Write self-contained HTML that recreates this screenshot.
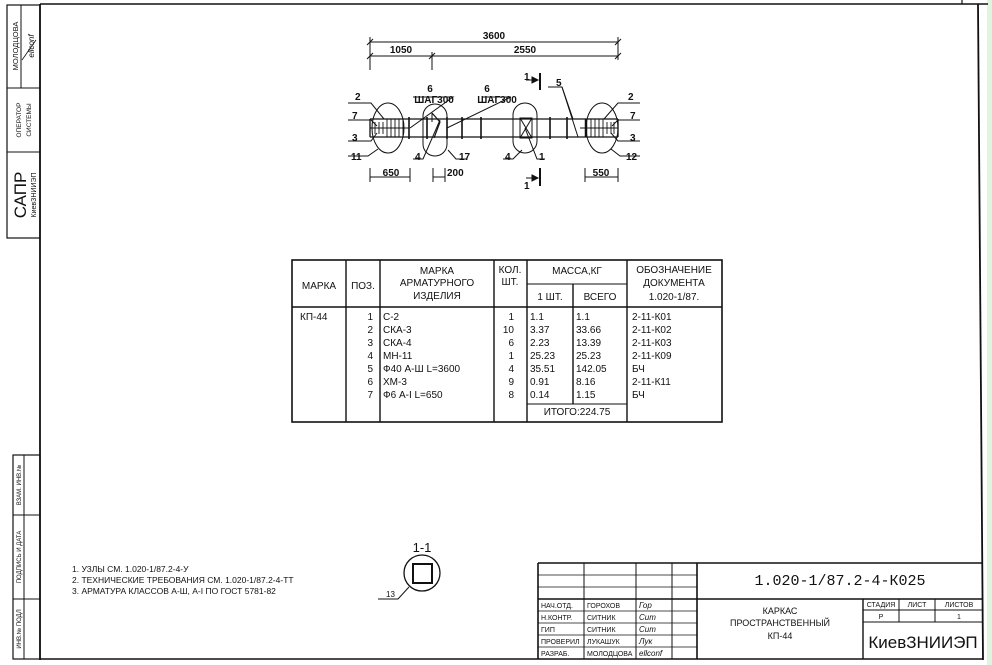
<!DOCTYPE html>
<html><head><meta charset="utf-8"><style>
html,body{margin:0;padding:0;background:#fff}
svg{display:block}
text{font-family:"Liberation Sans",sans-serif;fill:#111}
.m{font-family:"Liberation Mono",monospace}
</style></head><body>
<svg width="992" height="665" viewBox="0 0 992 665" xmlns="http://www.w3.org/2000/svg">
<rect x="987" y="0" width="5" height="665" fill="#dff5df"/>
<g stroke="#111" fill="none">
<!-- frame -->
<line x1="40" y1="4" x2="988" y2="4" stroke-width="1.6"/>
<line x1="962" y1="0" x2="962" y2="4" stroke-width="1.2"/>
<line x1="40" y1="4" x2="40" y2="660" stroke-width="1.8"/>
<line x1="978" y1="4" x2="983" y2="660" stroke-width="1.8"/>
<line x1="40" y1="659" x2="983" y2="659" stroke-width="1.6"/>
<!-- top-left stamp -->
<rect x="7" y="5" width="33" height="233" stroke-width="1.2"/>
<line x1="7" y1="88" x2="40" y2="88"/><line x1="7" y1="152" x2="40" y2="152"/>
<line x1="21" y1="5" x2="21" y2="88"/>
<line x1="22" y1="60" x2="36" y2="40" stroke-width="0.8"/>
<!-- bottom-left strip -->
<rect x="13" y="455" width="27" height="204" stroke-width="1.2"/>
<line x1="24" y1="455" x2="24" y2="659"/>
<line x1="13" y1="515" x2="40" y2="515"/><line x1="13" y1="599" x2="40" y2="599"/>
</g>
<g font-size="7.5">
<text transform="translate(18,46) rotate(-90)" text-anchor="middle">МОЛОДЦОВА</text>
<text transform="translate(34,46) rotate(-90)" text-anchor="middle" font-style="italic" font-size="8">ellconf</text>
<text transform="translate(21,120) rotate(-90)" text-anchor="middle" font-size="6.5">ОПЕРАТОР</text>
<text transform="translate(31,120) rotate(-90)" text-anchor="middle" font-size="6.5">СИСТЕМЫ</text>
<text transform="translate(26,195) rotate(-90)" text-anchor="middle" font-size="17">САПР</text>
<text transform="translate(36,195) rotate(-90)" text-anchor="middle" font-size="7">КиевЗНИИЭП</text>
<text transform="translate(21,485) rotate(-90)" text-anchor="middle" font-size="6">ВЗАМ. ИНВ.№</text>
<text transform="translate(21,557) rotate(-90)" text-anchor="middle" font-size="6">ПОДПИСЬ И ДАТА</text>
<text transform="translate(21,629) rotate(-90)" text-anchor="middle" font-size="6">ИНВ.№ ПОДЛ</text>
</g>

<!-- main drawing -->
<g stroke="#111" fill="none" stroke-width="1">
<!-- dims -->
<line x1="370" y1="42" x2="618" y2="42"/>
<line x1="370" y1="56" x2="618" y2="56"/>
<line x1="370" y1="37" x2="370" y2="70"/><line x1="618" y1="37" x2="618" y2="60"/>
<line x1="432" y1="52" x2="432" y2="70"/>
<line x1="367" y1="45" x2="373" y2="39"/><line x1="615" y1="45" x2="621" y2="39"/>
<line x1="367" y1="59" x2="373" y2="53"/><line x1="429" y1="59" x2="435" y2="53"/><line x1="615" y1="59" x2="621" y2="53"/>
<!-- bars -->
<line x1="370" y1="119" x2="618" y2="119" stroke-width="1.3"/>
<line x1="370" y1="137" x2="618" y2="137" stroke-width="1.3"/>
<line x1="370" y1="119" x2="370" y2="137" stroke-width="1.3"/>
<line x1="618" y1="119" x2="618" y2="137" stroke-width="1.3"/>
<line x1="370" y1="128" x2="409" y2="128"/>
<line x1="580" y1="128" x2="618" y2="128"/>
<!-- stirrups -->
<g stroke-width="1.6">
<line x1="409" y1="117" x2="409" y2="139"/>
<line x1="427" y1="117" x2="427" y2="139"/><line x1="447" y1="117" x2="447" y2="139"/>
<line x1="462" y1="117" x2="462" y2="139"/><line x1="481" y1="117" x2="481" y2="139"/>
<line x1="550" y1="117" x2="550" y2="139"/><line x1="567" y1="117" x2="567" y2="139"/>
</g>
<!-- left mesh -->
<g stroke-width="0.9">
<line x1="375" y1="122" x2="375" y2="134"/><line x1="379" y1="122" x2="379" y2="134"/><line x1="383" y1="122" x2="383" y2="134"/>
<line x1="387" y1="119" x2="387" y2="137"/><line x1="391" y1="119" x2="391" y2="137"/><line x1="395" y1="119" x2="395" y2="137"/><line x1="399" y1="119" x2="399" y2="137"/><line x1="403" y1="119" x2="403" y2="137"/>
<line x1="586" y1="119" x2="586" y2="137" stroke-width="2.5"/>
<line x1="591" y1="119" x2="591" y2="137"/><line x1="595" y1="119" x2="595" y2="137"/><line x1="599" y1="119" x2="599" y2="137"/><line x1="603" y1="119" x2="603" y2="137"/>
<line x1="607" y1="122" x2="607" y2="134"/><line x1="611" y1="122" x2="611" y2="134"/><line x1="614" y1="122" x2="614" y2="134"/>
</g>
<!-- ellipses -->
<ellipse cx="388" cy="128" rx="16" ry="25"/>
<rect x="423" y="104" width="24" height="52" rx="12"/>
<rect x="513" y="103" width="24" height="50" rx="12"/>
<ellipse cx="602" cy="128" rx="16" ry="25"/>
<!-- 4 in second ellipse -->
<path d="M432 113 L440 122 L434 138" stroke-width="1.2"/>
<line x1="432" y1="113" x2="432" y2="122"/>
<!-- X box -->
<rect x="520" y="118" width="12" height="20"/>
<line x1="520" y1="118" x2="532" y2="138"/><line x1="532" y1="118" x2="520" y2="138"/>
<!-- leaders -->
<polyline points="348,103 371,103 384,119"/>
<polyline points="348,120 371,120 377,126"/>
<polyline points="348,141 371,141 377,133"/>
<polyline points="348,156 368,156 378,149"/>
<polyline points="640,103 618,103 604,119"/>
<polyline points="640,120 618,120 612,126"/>
<polyline points="640,141 618,141 611,133"/>
<polyline points="640,156 620,156 611,149"/>
<polyline points="413,97 453,97 410,128"/>
<polyline points="482,97 511,97 447,128"/>
<polyline points="413,159 423,159 440,120"/>
<polyline points="466,159 456,159 448,150"/>
<polyline points="503,159 513,159 522,150"/>
<polyline points="545,159 537,159 525,128"/>
<polyline points="548,87 562,87 573,119"/>
<line x1="562" y1="87" x2="578" y2="137"/>
<!-- section marks -->
<line x1="540" y1="73" x2="540" y2="90" stroke-width="2"/>
<line x1="540" y1="168" x2="540" y2="186" stroke-width="2"/>
<line x1="526" y1="80" x2="538" y2="80"/><path d="M532 77 L538 80 L532 83 Z" fill="#111"/>
<line x1="526" y1="178" x2="538" y2="178"/><path d="M532 175 L538 178 L532 181 Z" fill="#111"/>
<!-- bottom dims -->
<line x1="370" y1="177" x2="410" y2="177"/>
<line x1="370" y1="168" x2="370" y2="182"/><line x1="410" y1="168" x2="410" y2="182"/>
<line x1="433" y1="177" x2="445" y2="177"/>
<line x1="433" y1="168" x2="433" y2="182"/><line x1="445" y1="168" x2="445" y2="182"/>
<line x1="585" y1="177" x2="618" y2="177"/>
<line x1="585" y1="168" x2="585" y2="182"/><line x1="618" y1="168" x2="618" y2="182"/>
</g>
<g font-size="10" class="m" font-weight="bold">
<text x="494" y="39" text-anchor="middle">3600</text>
<text x="401" y="53" text-anchor="middle">1050</text>
<text x="525" y="53" text-anchor="middle">2550</text>
<text x="430" y="92" text-anchor="middle">6</text>
<text x="487" y="92" text-anchor="middle">6</text>
<text x="434" y="103" text-anchor="middle">ШАГ300</text>
<text x="497" y="103" text-anchor="middle">ШАГ300</text>
<text x="524" y="80">1</text><text x="524" y="189">1</text>
<text x="556" y="86">5</text>
<text x="355" y="100">2</text><text x="352" y="119">7</text><text x="352" y="141">3</text><text x="351" y="160">11</text>
<text x="628" y="100">2</text><text x="630" y="119">7</text><text x="630" y="141">3</text><text x="626" y="160">12</text>
<text x="415" y="160">4</text><text x="459" y="160">17</text><text x="505" y="160">4</text><text x="539" y="160">1</text>
<text x="391" y="176" text-anchor="middle">650</text>
<text x="447" y="176">200</text>
<text x="601" y="176" text-anchor="middle">550</text>
</g>

<!-- table -->
<g stroke="#111" fill="none" stroke-width="1">
<rect x="292" y="260" width="430" height="162" stroke-width="1.6"/>
<line x1="292" y1="307" x2="722" y2="307" stroke-width="1.4"/>
<line x1="346" y1="260" x2="346" y2="422" stroke-width="1.4"/>
<line x1="380" y1="260" x2="380" y2="422" stroke-width="1.4"/>
<line x1="494" y1="260" x2="494" y2="422" stroke-width="1.4"/>
<line x1="527" y1="260" x2="527" y2="422" stroke-width="1.4"/>
<line x1="627" y1="260" x2="627" y2="422" stroke-width="1.4"/>
<line x1="573" y1="284" x2="573" y2="404" stroke-width="1.4"/>
<line x1="527" y1="284" x2="627" y2="284"/>
<line x1="527" y1="404" x2="627" y2="404"/>
</g>
<g font-size="10" class="m">
<text x="319" y="289" text-anchor="middle">МАРКА</text>
<text x="363" y="289" text-anchor="middle">ПОЗ.</text>
<text x="437" y="274" text-anchor="middle">МАРКА</text>
<text x="437" y="286" text-anchor="middle">АРМАТУРНОГО</text>
<text x="437" y="299" text-anchor="middle">ИЗДЕЛИЯ</text>
<text x="510" y="273" text-anchor="middle">КОЛ.</text>
<text x="510" y="285" text-anchor="middle">ШТ.</text>
<text x="577" y="274" text-anchor="middle">МАССА,КГ</text>
<text x="550" y="300" text-anchor="middle">1 ШТ.</text>
<text x="600" y="300" text-anchor="middle">ВСЕГО</text>
<text x="674" y="273" text-anchor="middle">ОБОЗНАЧЕНИЕ</text>
<text x="674" y="286" text-anchor="middle">ДОКУМЕНТА</text>
<text x="674" y="300" text-anchor="middle">1.020-1/87.</text>
<text x="300" y="320">КП-44</text>
<g text-anchor="end">
<text x="373" y="320">1</text><text x="373" y="333">2</text><text x="373" y="346">3</text><text x="373" y="359">4</text><text x="373" y="372">5</text><text x="373" y="385">6</text><text x="373" y="398">7</text>
<text x="514" y="320">1</text><text x="514" y="333">10</text><text x="514" y="346">6</text><text x="514" y="359">1</text><text x="514" y="372">4</text><text x="514" y="385">9</text><text x="514" y="398">8</text>
</g>
<text x="383" y="320">С-2</text><text x="383" y="333">СКА-3</text><text x="383" y="346">СКА-4</text><text x="383" y="359">МН-11</text><text x="383" y="372">Ф40 А-Ш L=3600</text><text x="383" y="385">ХМ-3</text><text x="383" y="398">Ф6 А-I L=650</text>
<text x="530" y="320">1.1</text><text x="530" y="333">3.37</text><text x="530" y="346">2.23</text><text x="530" y="359">25.23</text><text x="530" y="372">35.51</text><text x="530" y="385">0.91</text><text x="530" y="398">0.14</text>
<text x="576" y="320">1.1</text><text x="576" y="333">33.66</text><text x="576" y="346">13.39</text><text x="576" y="359">25.23</text><text x="576" y="372">142.05</text><text x="576" y="385">8.16</text><text x="576" y="398">1.15</text>
<text x="632" y="320">2-11-К01</text><text x="632" y="333">2-11-К02</text><text x="632" y="346">2-11-К03</text><text x="632" y="359">2-11-К09</text><text x="632" y="372">БЧ</text><text x="632" y="385">2-11-К11</text><text x="632" y="398">БЧ</text>
<text x="577" y="415" text-anchor="middle">ИТОГО:224.75</text>
</g>

<!-- notes -->
<g font-size="8.5">
<text x="72" y="572">1. УЗЛЫ СМ. 1.020-1/87.2-4-У</text>
<text x="72" y="583">2. ТЕХНИЧЕСКИЕ ТРЕБОВАНИЯ СМ. 1.020-1/87.2-4-ТТ</text>
<text x="72" y="594">3. АРМАТУРА КЛАССОВ А-Ш, А-I ПО ГОСТ 5781-82</text>
</g>
<!-- section 1-1 -->
<g stroke="#111" fill="none">
<circle cx="422" cy="573" r="18" stroke-width="1.3"/>
<rect x="413" y="564" width="19" height="19" stroke-width="2"/>
<polyline points="378,599 398,599 409,587"/>
</g>
<text x="422" y="552" text-anchor="middle" font-size="13">1-1</text>
<text x="386" y="597" font-size="8">13</text>

<!-- title block -->
<g stroke="#111" fill="none" stroke-width="1">
<line x1="538" y1="563" x2="983" y2="563" stroke-width="1.6"/>
<line x1="538" y1="563" x2="538" y2="659" stroke-width="1.6"/>
<line x1="584" y1="563" x2="584" y2="659"/>
<line x1="636" y1="563" x2="636" y2="659"/>
<line x1="672" y1="563" x2="672" y2="659"/>
<line x1="697" y1="563" x2="697" y2="659" stroke-width="1.6"/>
<line x1="538" y1="575" x2="697" y2="575" stroke-width="0.8"/>
<line x1="538" y1="587" x2="697" y2="587" stroke-width="0.8"/>
<line x1="538" y1="599" x2="983" y2="599" stroke-width="1.4"/>
<line x1="538" y1="611" x2="697" y2="611" stroke-width="0.8"/>
<line x1="538" y1="623" x2="697" y2="623" stroke-width="0.8"/>
<line x1="538" y1="635" x2="697" y2="635" stroke-width="0.8"/>
<line x1="538" y1="647" x2="697" y2="647" stroke-width="0.8"/>
<line x1="863" y1="599" x2="863" y2="659" stroke-width="1.4"/>
<line x1="899" y1="599" x2="899" y2="622"/>
<line x1="935" y1="599" x2="935" y2="622"/>
<line x1="863" y1="610" x2="983" y2="610"/>
<line x1="863" y1="622" x2="983" y2="622"/>
</g>
<g font-size="7">
<text x="541" y="608">НАЧ.ОТД.</text><text x="541" y="620">Н.КОНТР.</text><text x="541" y="632">ГИП</text><text x="541" y="644">ПРОВЕРИЛ</text><text x="541" y="656">РАЗРАБ.</text>
<text x="587" y="608">ГОРОХОВ</text><text x="587" y="620">СИТНИК</text><text x="587" y="632">СИТНИК</text><text x="587" y="644">ЛУКАШУК</text><text x="587" y="656">МОЛОДЦОВА</text>
<g font-style="italic" font-size="8"><text x="639" y="608">Гор</text><text x="639" y="620">Сит</text><text x="639" y="632">Сит</text><text x="639" y="644">Лук</text><text x="639" y="656">ellconf</text></g>
<text x="881" y="607" text-anchor="middle">СТАДИЯ</text><text x="917" y="607" text-anchor="middle">ЛИСТ</text><text x="959" y="607" text-anchor="middle">ЛИСТОВ</text>
<text x="881" y="619" text-anchor="middle">Р</text><text x="959" y="619" text-anchor="middle">1</text>
</g>
<text x="840" y="585" text-anchor="middle" font-size="15" class="m">1.020-1/87.2-4-К025</text>
<g font-size="9" text-anchor="middle">
<text x="780" y="614">КАРКАС</text>
<text x="780" y="626">ПРОСТРАНСТВЕННЫЙ</text>
<text x="780" y="639">КП-44</text>
</g>
<text x="923" y="648" text-anchor="middle" font-size="17">КиевЗНИИЭП</text>
</svg>
</body></html>
